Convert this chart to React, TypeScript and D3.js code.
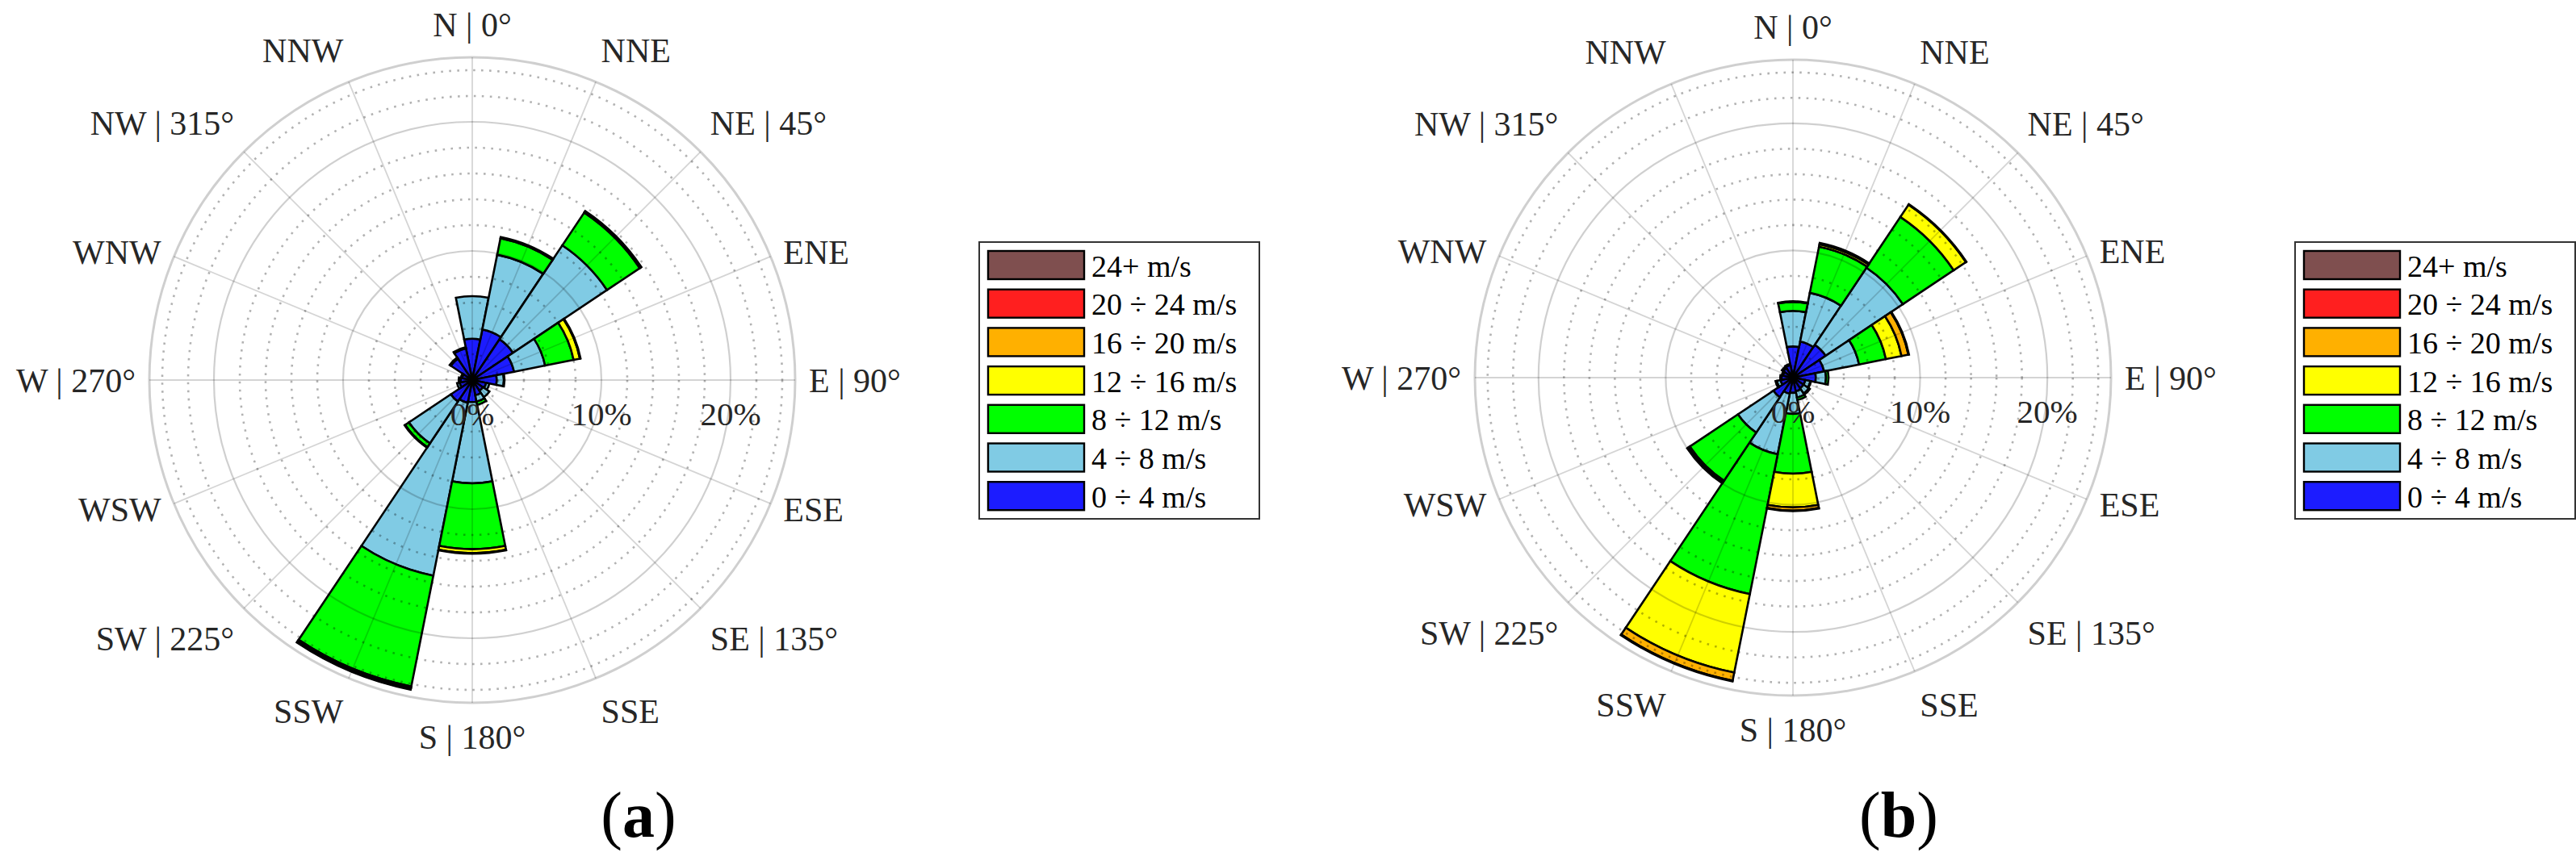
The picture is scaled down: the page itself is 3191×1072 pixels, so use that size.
import React from 'react';
import * as d3 from 'd3';

// 16 compass sectors, clockwise from north
const directions = ['N', 'NNE', 'NE', 'ENE', 'E', 'ESE', 'SE', 'SSE', 'S', 'SSW', 'SW', 'WSW', 'W', 'WNW', 'NW', 'NNW'];
const dirLabels = ['N | 0°', 'NNE', 'NE | 45°', 'ENE', 'E | 90°', 'ESE', 'SE | 135°', 'SSE', 'S | 180°', 'SSW', 'SW | 225°', 'WSW', 'W | 270°', 'WNW', 'NW | 315°', 'NNW'];

// speed classes, inner to outer
const classKeys = ['c0', 'c1', 'c2', 'c3', 'c4', 'c5', 'c6'];
const classLabels = ['0 ÷ 4 m/s', '4 ÷ 8 m/s', '8 ÷ 12 m/s', '12 ÷ 16 m/s', '16 ÷ 20 m/s', '20 ÷ 24 m/s', '24+ m/s'];
const classColors = ['#1c1cff', '#80cbe4', '#00ff00', '#ffff00', '#ffb000', '#ff1f1f', '#7f4f4f'];

const tickLabels = [0, 10, 20];
const solidRings = [10, 20, 25];
const dottedRings = [2, 4, 6, 8, 12, 14, 16, 18, 22, 24];
const maxPct = 25;

// panel (a) frequencies in % per speed class
const a_0_4 = [3.2, 4.0, 3.8, 3.3, 1.9, 1.1, 1.0, 1.2, 1.7, 1.8, 2.0, 1.0, 0.9, 0.8, 2.0, 2.5];
const a_4_8 = [3.3, 5.9, 8.75, 2.45, 0.55, 0.25, 0.6, 0.5, 6.3, 13.65, 3.9, 0.2, 0.15, 0.1, 0.1, 0.1];
const a_8_12 = [0, 1.3, 3.05, 2.25, 0.05, 0, 0, 0.25, 5.1, 8.75, 0.35, 0, 0, 0, 0, 0];
const a_12_16 = [0, 0.1, 0.1, 0.5, 0, 0, 0, 0, 0.3, 0.1, 0.05, 0, 0, 0, 0, 0];
const a_16_20 = [0, 0, 0.05, 0.05, 0, 0, 0, 0, 0.05, 0.1, 0, 0, 0, 0, 0, 0];
const a_20_24 = [0, 0, 0, 0, 0, 0, 0, 0, 0, 0.05, 0, 0, 0, 0, 0, 0];
const a_24 = [0, 0, 0, 0, 0, 0, 0, 0, 0, 0, 0, 0, 0, 0, 0, 0];

// panel (b) frequencies in % per speed class
const b_0_4 = [2.45, 2.9, 3.1, 2.5, 1.8, 1.0, 1.0, 1.1, 1.2, 1.3, 1.85, 1.0, 0.9, 0.8, 0.9, 1.0];
const b_4_8 = [2.8, 3.9, 7.3, 2.8, 0.8, 0.4, 0.5, 0.5, 1.65, 4.85, 3.35, 0.3, 0.1, 0.1, 0.15, 0.1];
const b_8_12 = [0.7, 3.7, 4.8, 2.15, 0.2, 0.05, 0.1, 0.2, 4.7, 11.2, 4.55, 0.1, 0, 0, 0, 0];
const b_12_16 = [0.05, 0.2, 1.15, 1.25, 0, 0, 0, 0, 2.65, 6.3, 0.15, 0, 0, 0, 0, 0];
const b_16_20 = [0, 0.1, 0.05, 0.55, 0, 0, 0, 0, 0.25, 0.65, 0.1, 0, 0, 0, 0, 0];
const b_20_24 = [0, 0, 0, 0.05, 0, 0, 0, 0, 0.05, 0.05, 0, 0, 0, 0, 0, 0];
const b_24 = [0, 0, 0, 0, 0, 0, 0, 0, 0, 0, 0, 0, 0, 0, 0, 0];

const buildRows = (cols: number[][]) =>
  directions.map((d, i) => {
    const row: any = { dir: d, idx: i };
    classKeys.forEach((k, j) => (row[k] = cols[j][i]));
    return row;
  });

const panels = [
  {
    id: 'a',
    cx: 585,
    cy: 471,
    radius: 400,
    legendX: 1213,
    captionX: 791,
    rows: buildRows([a_0_4, a_4_8, a_8_12, a_12_16, a_16_20, a_20_24, a_24]),
  },
  {
    id: 'b',
    cx: 2221,
    cy: 468,
    radius: 394,
    legendX: 2843,
    captionX: 2352,
    rows: buildRows([b_0_4, b_4_8, b_8_12, b_12_16, b_16_20, b_20_24, b_24]),
  },
];

const FONT = "'Liberation Serif', 'Times New Roman', serif";
const TEXT = '#262626';

const Rose: React.FC<{ p: (typeof panels)[number] }> = ({ p }) => {
  const r = d3.scaleLinear().domain([0, maxPct]).range([0, p.radius]);
  const series = d3.stack<any>().keys(classKeys)(p.rows);
  const step = (2 * Math.PI) / directions.length;
  const arc = d3.arc<any>();

  const labelR = p.radius + 17;

  return (
    <g>
      {/* bars */}
      <g transform={`translate(${p.cx},${p.cy})`}>
        {series.map((s, j) => (
          <g key={s.key} fill={classColors[j]} stroke="#000" strokeWidth={2.6} strokeLinejoin="miter">
            {s.map((d, i) =>
              d[1] - d[0] > 0 ? (
                <path
                  key={i}
                  d={
                    arc({
                      innerRadius: r(d[0]),
                      outerRadius: r(d[1]),
                      startAngle: i * step - step / 2,
                      endAngle: i * step + step / 2,
                    }) as string
                  }
                />
              ) : null,
            )}
          </g>
        ))}
      </g>

      {/* grid on top */}
      <g transform={`translate(${p.cx},${p.cy})`} fill="none">
        {dottedRings.map((t) => (
          <circle key={'d' + t} r={r(t)} stroke="rgba(0,0,0,0.3)" strokeWidth={2.6} strokeDasharray="2.6 7.4" />
        ))}
        {solidRings.map((t) => (
          <circle key={'s' + t} r={r(t)} stroke="rgba(0,0,0,0.19)" strokeWidth={t === maxPct ? 3 : 2.2} />
        ))}
        {directions.map((d, i) => {
          const th = i * step;
          return (
            <line
              key={d}
              x1={0}
              y1={0}
              x2={r(maxPct) * Math.sin(th)}
              y2={-r(maxPct) * Math.cos(th)}
              stroke="rgba(0,0,0,0.17)"
              strokeWidth={1.8}
            />
          );
        })}
      </g>

      {/* percentage labels */}
      {tickLabels.map((t) => (
        <text
          key={t}
          x={p.cx + r(t)}
          y={p.cy + 56}
          textAnchor="middle"
          fontFamily={FONT}
          fontSize={41}
          fill={TEXT}
        >
          {t}%
        </text>
      ))}

      {/* direction labels */}
      {dirLabels.map((lab, i) => {
        const th = i * step;
        const s = Math.sin(th);
        const c = Math.cos(th);
        const x = p.cx + labelR * s;
        const y = p.cy - labelR * c;
        const anchor = s > 0.1 ? 'start' : s < -0.1 ? 'end' : 'middle';
        const dy = Math.abs(c) < 0.5 ? 0.36 : c > 0 ? -0.22 : 0.95;
        return (
          <text
            key={lab}
            x={x}
            y={y}
            dy={`${dy}em`}
            textAnchor={anchor}
            fontFamily={FONT}
            fontSize={42}
            fill={TEXT}
          >
            {lab}
          </text>
        );
      })}

      {/* legend */}
      <g transform={`translate(${p.legendX},300)`}>
        <rect x={0} y={0} width={347} height={343} fill="#fff" stroke="#333" strokeWidth={2} />
        {classLabels
          .map((lab, j) => ({ lab, j }))
          .reverse()
          .map(({ lab, j }, k) => (
            <g key={lab} transform={`translate(11,${11 + k * 47.7})`}>
              <rect x={0} y={0} width={119} height={35} fill={classColors[j]} stroke="#000" strokeWidth={2.4} />
              <text x={128} y={17.5} dy="0.37em" fontFamily={FONT} fontSize={38} fill="#000">
                {lab}
              </text>
            </g>
          ))}
      </g>

      {/* caption */}
      <text x={p.captionX} y={1037} textAnchor="middle" fontFamily={FONT} fontSize={80} fill="#000">
        (<tspan fontWeight="bold">{p.id}</tspan>)
      </text>
    </g>
  );
};

export default function App() {
  return (
    <svg
      width={3191}
      height={1072}
      style={{ position: 'absolute', left: 0, top: 0, background: '#fff' }}
    >
      <rect width={3191} height={1072} fill="#fff" />
      {panels.map((p) => (
        <Rose key={p.id} p={p} />
      ))}
    </svg>
  );
}
